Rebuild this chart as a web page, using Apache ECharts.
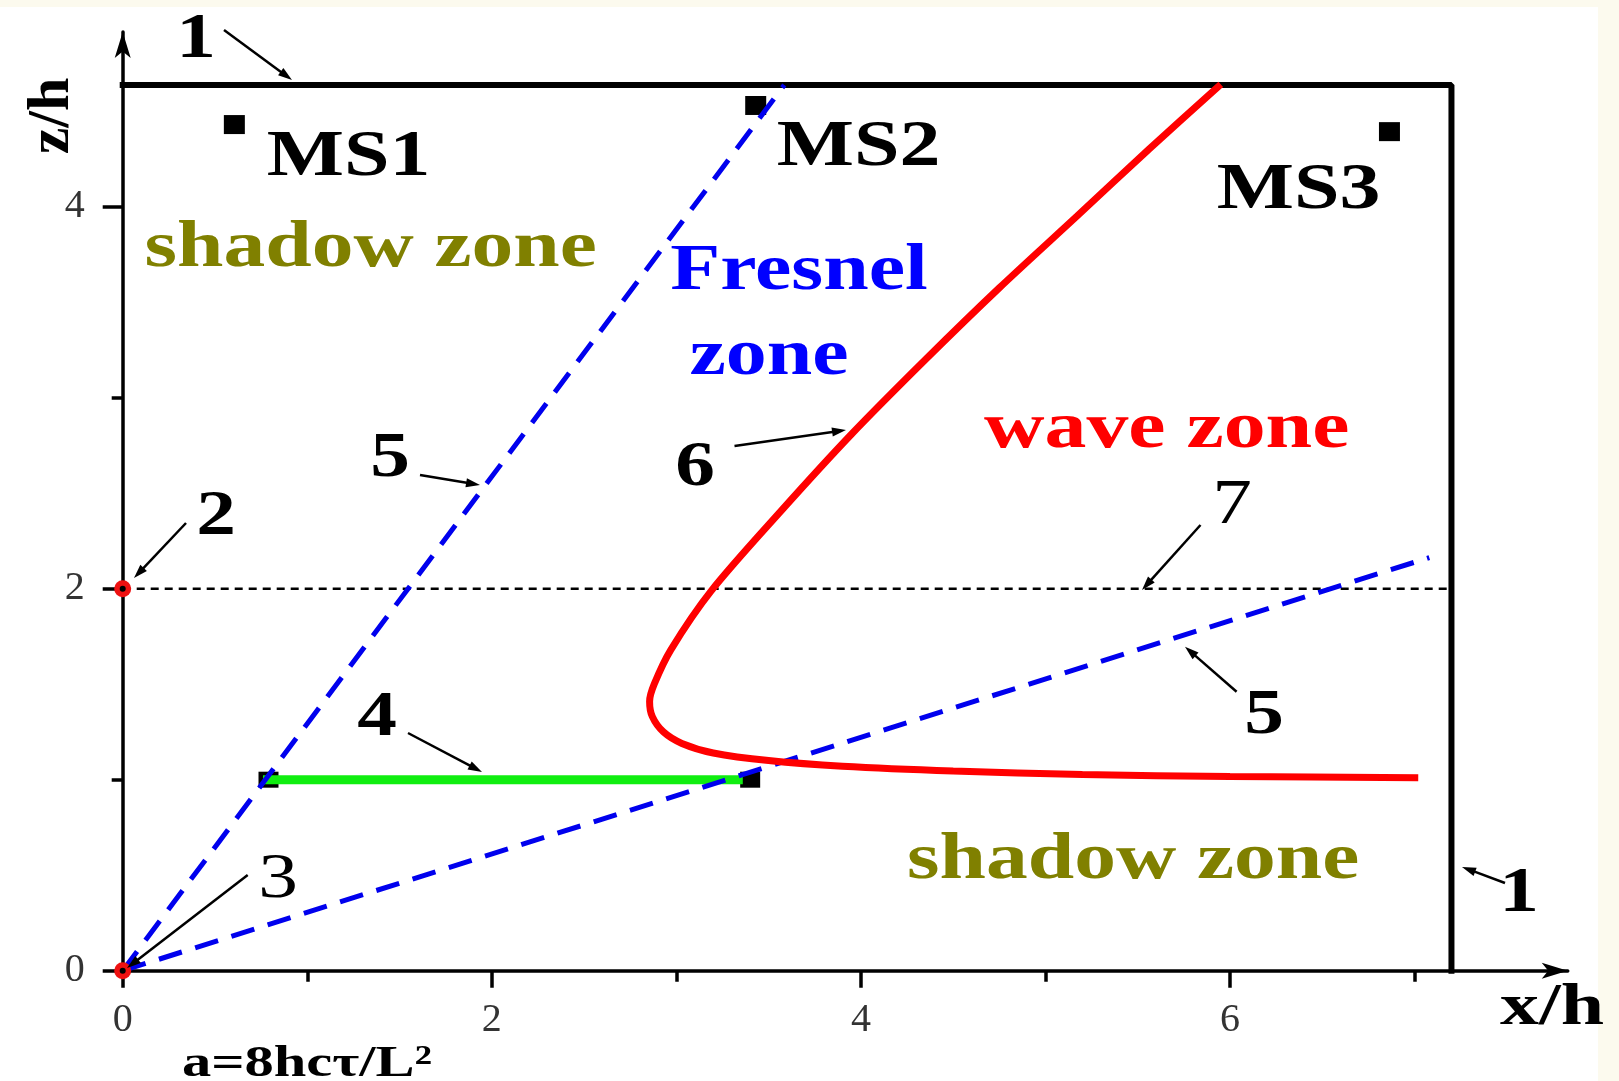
<!DOCTYPE html>
<html><head><meta charset="utf-8">
<script src="https://cdn.jsdelivr.net/npm/echarts@6/dist/echarts.min.js"></script>
<style>html,body{margin:0;padding:0;background:#fff}#c{width:1619px;height:1081px}</style>
</head><body><div id="c"></div>
<script>
// ---------------- data ----------------
const xTickMajor = [0, 2, 4, 6];
const xTickMinor = [1, 3, 5, 7];
const zTickMajor = [0, 2, 4];
const zTickMinor = [1, 3];
// frame (curve 1): top boundary and right boundary
const frameX = [0, 7.2, 7.2];
const frameZ = [4.637, 4.637, 0];
// line 7 (dotted, z/h = 2)
const level7X = [0, 7.2];
const level7Z = [2, 2];
// lines 5 (blue dashed rays)
const ray1X = [0, 3.585];
const ray1Z = [0, 4.637];
const ray2X = [0, 7.08];
const ray2Z = [0, 2.163];
// segment 4 (green)
const segX = [0.76, 3.36];
const segZ = [1, 1];
const segEndX = [0.79, 3.40];
const segEndZ = [1, 1];
// curve 6 (red)
const redX = [5.95, 5.56, 5.17, 4.75, 4.35, 3.95, 3.57, 3.19, 2.97, 2.88, 2.855, 2.87, 2.93, 3.03, 3.20, 3.50, 3.90, 4.50, 5.20, 6.00, 7.02];
const redZ = [4.64, 4.30, 3.95, 3.575, 3.20, 2.81, 2.41, 1.99, 1.68, 1.50, 1.41, 1.33, 1.25, 1.19, 1.14, 1.10, 1.07, 1.045, 1.027, 1.017, 1.01];
// measurement stations MS1..MS3
const msX = [0.605, 3.43, 6.864];
const msZ = [4.43, 4.53, 4.393];
// points 2 and 3
const srcX = [0, 0];
const srcZ = [2, 0];

const pairs = (xs, zs) => xs.map((x, i) => [x, zs[i]]);

// ---------------- chart ----------------
const chart = echarts.init(document.getElementById('c'), null, {renderer: 'canvas'});
const X_MAX = 7.83, Z_MAX = 4.915;
const FONT = '"Liberation Serif", "Times New Roman", serif';

function baseAxis(extra) {
  return Object.assign({
    type: 'value', min: 0, interval: 1,
    splitLine: {show: false},
  }, extra);
}

function txt(s, cx, cy, size, color, opts) {
  opts = opts || {};
  return {
    type: 'text', x: cx, y: cy, z: 100,
    scaleX: opts.sx == null ? 1.24 : opts.sx,
    rotation: opts.rot || 0,
    style: {
      text: s, x: 0, y: 0, fill: color,
      font: (opts.weight || 'bold') + ' ' + size + 'px ' + FONT,
      textAlign: 'center', textVerticalAlign: 'middle'
    }
  };
}
function arrow(x1, y1, x2, y2) {
  const dx = x2 - x1, dy = y2 - y1, L = Math.hypot(dx, dy), ux = dx / L, uy = dy / L;
  const hl = 14, hw = 4.5;
  const bx = x2 - ux * hl, by = y2 - uy * hl;
  return [
    {type: 'line', z: 100, shape: {x1: x1, y1: y1, x2: bx + ux * 2, y2: by + uy * 2}, style: {stroke: '#000', lineWidth: 2.5}},
    {type: 'polygon', z: 100, shape: {points: [[x2, y2], [bx - uy * hw, by + ux * hw], [bx + uy * hw, by - ux * hw]]}, style: {fill: '#000'}}
  ];
}

const graphics = [
  {type: 'rect', z: 0, shape: {x: 0, y: 0, width: 1619, height: 7}, style: {fill: '#fcfaee'}},
  {type: 'rect', z: 0, shape: {x: 1598, y: 0, width: 21, height: 1081}, style: {fill: '#fcfaee'}},
  txt('MS1', 348.5, 158, 66, '#000'),
  txt('MS2', 858.5, 148, 66, '#000'),
  txt('MS3', 1298.7, 191, 66, '#000'),
  txt('shadow zone', 370.7, 249, 66, '#808000', {sx: 1.265}),
  txt('Fresnel', 799, 271.5, 66, '#0000ff'),
  txt('zone', 769, 357, 66, '#0000ff'),
  txt('wave zone', 1166.7, 429.5, 66, '#ff0000', {sx: 1.27}),
  txt('shadow zone', 1133.2, 860.5, 66, '#808000', {sx: 1.265}),
  txt('x/h', 1552, 1008, 60, '#000', {sx: 1.3}),
  txt('z/h', 52.5, 116, 60, '#000', {sx: 1, rot: Math.PI / 2}),
  txt('a=8hc\u03c4/L\u00b2', 307, 1065, 44, '#000', {sx: 1.33}),
  txt('1', 196, 40, 64, '#000'),
  txt('2', 216, 517, 64, '#000'),
  txt('5', 390, 459, 64, '#000'),
  txt('6', 695, 468, 64, '#000'),
  txt('7', 1232, 506, 64, '#000', {weight: 'normal'}),
  txt('5', 1264, 716, 64, '#000'),
  txt('4', 377, 718, 64, '#000'),
  txt('3', 278, 880, 64, '#000', {weight: 'normal'}),
  txt('1', 1519, 894, 64, '#000')
].concat(
  arrow(224, 30, 292, 80),
  arrow(186, 523, 134, 578),
  arrow(420, 475, 480, 485),
  arrow(734.5, 446, 846, 430),
  arrow(1200.5, 525, 1142, 590),
  arrow(1236.6, 691.7, 1185, 646.7),
  arrow(408, 733, 482, 772),
  arrow(247.7, 875, 127, 968),
  arrow(1505, 883, 1462, 867)
);

const option = {
  backgroundColor: '#ffffff',
  animation: false,
  grid: {left: 122.7, right: 1619 - (122.7 + X_MAX * 184.55), top: 970.7 - Z_MAX * 191, bottom: 1081 - 970.7, containLabel: false},
  xAxis: [
    baseAxis({
      max: X_MAX, position: 'bottom',
      axisLine: {show: true, onZero: false, symbol: ['none', 'arrow'], symbolSize: [12, 26], lineStyle: {color: '#000', width: 3.5}},
      axisTick: {show: true, customValues: xTickMajor, length: 17, inside: false, lineStyle: {color: '#000', width: 3.5}},
      axisLabel: {show: true, customValues: xTickMajor, margin: 30, color: '#333', fontFamily: FONT, fontSize: 40}
    }),
    baseAxis({
      max: X_MAX, position: 'bottom',
      axisLine: {show: false, onZero: false},
      axisTick: {show: true, customValues: xTickMinor, length: 11, lineStyle: {color: '#000', width: 3.5}},
      axisLabel: {show: false}
    })
  ],
  yAxis: [
    baseAxis({
      max: Z_MAX, position: 'left',
      axisLine: {show: true, onZero: false, symbol: ['none', 'arrow'], symbolSize: [12, 26], lineStyle: {color: '#000', width: 3.5}},
      axisTick: {show: true, customValues: zTickMajor, length: 20, lineStyle: {color: '#000', width: 3.5}},
      axisLabel: {show: true, customValues: zTickMajor, margin: 38, color: '#333', fontFamily: FONT, fontSize: 40}
    }),
    baseAxis({
      max: Z_MAX, position: 'left',
      axisLine: {show: false, onZero: false},
      axisTick: {show: true, customValues: zTickMinor, length: 11, lineStyle: {color: '#000', width: 3.5}},
      axisLabel: {show: false}
    })
  ],
  series: [
    {type: 'line', name: 'frame', data: pairs(frameX, frameZ), symbol: 'none', clip: false, z: 3,
     lineStyle: {color: '#000', width: 6, cap: 'square'}},
    {type: 'line', name: 'line7', data: pairs(level7X, level7Z), symbol: 'none', z: 2,
     lineStyle: {color: '#000', width: 2.5, type: [8, 6]}},
    {type: 'scatter', name: 'MS', data: pairs(msX, msZ), symbol: 'rect', symbolSize: [21, 19], z: 3,
     itemStyle: {color: '#000', opacity: 1}},
    {type: 'scatter', name: 'segEnds', data: pairs(segEndX, segEndZ), symbol: 'rect', symbolSize: [20, 16], z: 3,
     itemStyle: {color: '#000', opacity: 1}},
    {type: 'line', name: 'seg4', data: pairs(segX, segZ), symbol: 'none', z: 4,
     lineStyle: {color: '#10ee10', width: 9}},
    {type: 'line', name: 'ray1', data: pairs(ray1X, ray1Z), symbol: 'none', z: 5,
     lineStyle: {color: '#0000ee', width: 5, type: [24, 14]}},
    {type: 'line', name: 'ray2', data: pairs(ray2X, ray2Z), symbol: 'none', z: 5,
     lineStyle: {color: '#0000ee', width: 5, type: [24, 14]}},
    {type: 'line', name: 'curve6', data: pairs(redX, redZ), symbol: 'none', smooth: 0.3, z: 6,
     lineStyle: {color: '#ff0000', width: 7}},
    {type: 'scatter', name: 'src', data: pairs(srcX, srcZ), symbol: 'circle', symbolSize: 17, z: 7, clip: false,
     itemStyle: {color: '#ee1111', opacity: 1}},
    {type: 'scatter', name: 'srcC', data: pairs(srcX, srcZ), symbol: 'circle', symbolSize: 6, z: 8, clip: false,
     itemStyle: {color: '#000', opacity: 1}}
  ],
  graphic: graphics
};
chart.setOption(option);
</script>
</body></html>
